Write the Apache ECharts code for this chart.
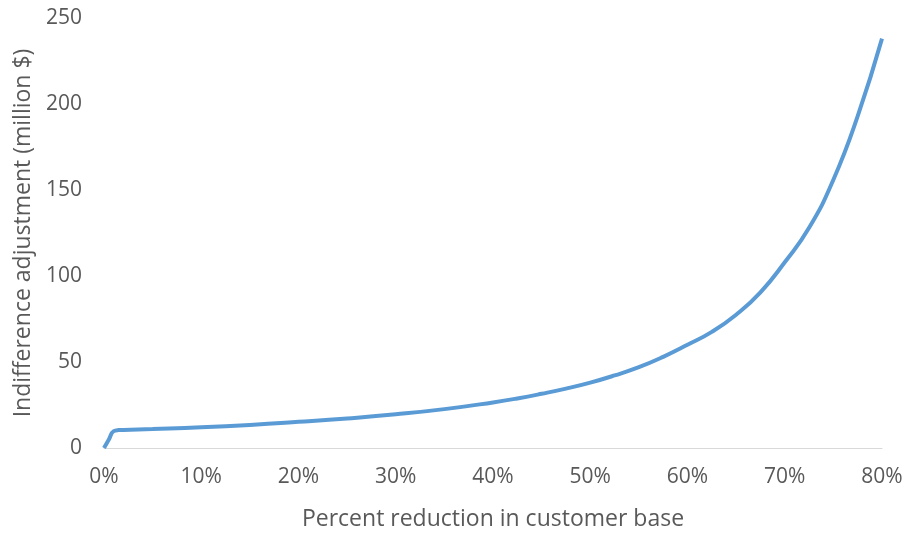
<!DOCTYPE html>
<html>
<head>
<meta charset="utf-8">
<script src="https://cdn.jsdelivr.net/npm/echarts@6/dist/echarts.min.js"></script>
<style>
	html, body { margin: 0; padding: 0; background: #fff; }
	#chart { width: 906px; height: 533px; }
</style>
</head>
<body>
<div id="chart"></div>
<script>
/* Values */
const reductionPct = [0, 0.5, 1, 1.5, 2, 5, 10, 15, 20, 25, 30, 35, 40, 42.5, 45, 47.5, 50, 52.5, 55, 57.5, 60, 62.5, 65, 67.5, 70, 72.5, 75, 77.5, 80];
const adjustment = [0, 5, 9.8, 10.4, 10.5, 11, 12, 13.4, 15.2, 17.2, 19.6, 22.6, 26.5, 28.8, 31.5, 34.5, 38, 42.2, 47, 53, 60, 67.5, 77.5, 90.5, 108, 128, 156, 193, 238];

const xTicks = { min: 0, max: 80, interval: 10 };
const yTicks = { min: 0, max: 250, interval: 50 };

const textColor = "#595959";
const fontFamily = "'Open Sans', 'Noto Sans', sans-serif";

const seriesData = reductionPct.map((x, i) => [x, adjustment[i]]);

const option = {
	animation: false,
	grid: { left: 104, right: 24, top: 18, bottom: 85, outerBoundsMode: "none", containLabel: false },
	xAxis: {
		type: "value",
		min: xTicks.min,
		max: xTicks.max,
		interval: xTicks.interval,
		name: "Percent reduction in customer base",
		nameLocation: "middle",
		nameGap: 60,
		nameTextStyle: { color: textColor, fontSize: 23, fontFamily: fontFamily },
		axisLine: { lineStyle: { color: "#d9d9d9", width: 1 } },
		axisTick: { show: false },
		splitLine: { show: false },
		axisLabel: {
			color: textColor,
			fontSize: 21,
			fontFamily: fontFamily,
			margin: 19,
			formatter: "{value}%",
		},
	},
	yAxis: {
		type: "value",
		min: yTicks.min,
		max: yTicks.max,
		interval: yTicks.interval,
		name: "Indifference adjustment (million $)",
		nameLocation: "middle",
		nameGap: 66,
		nameTextStyle: { color: textColor, fontSize: 23, fontFamily: fontFamily },
		axisLine: { show: false },
		axisTick: { show: false },
		splitLine: { show: false },
		axisLabel: {
			color: textColor,
			fontSize: 21,
			fontFamily: fontFamily,
			margin: 22,
		},
	},
	series: [
		{
			type: "line",
			data: seriesData,
			smooth: 0.5,
			showSymbol: false,
			lineStyle: { color: "#5b9bd5", width: 4 },
		},
	],
};

const myChart = echarts.init(document.getElementById("chart"));
myChart.setOption(option);
</script>
</body>
</html>
